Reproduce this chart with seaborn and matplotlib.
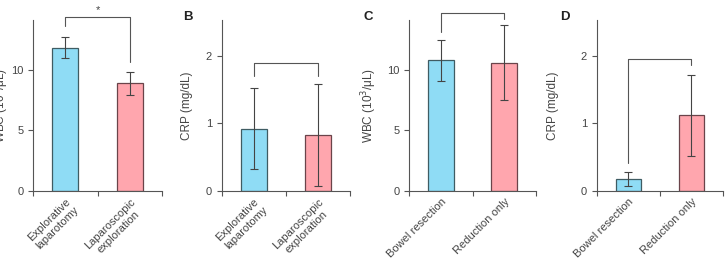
import matplotlib
matplotlib.use("Agg")
import matplotlib.pyplot as plt
import matplotlib.transforms as mtransforms
import seaborn as sns
import pandas as pd

# ---- data ----
cats_ab = ["Explorative\nlaparotomy", "Laparoscopic\nexploration"]
cats_cd = ["Bowel resection", "Reduction only"]
wbc_a = [11.85, 8.9]
wbc_a_err = [0.9, 0.93]
crp_b = [0.92, 0.83]
crp_b_err = [0.6, 0.76]
wbc_c = [10.8, 10.6]
wbc_c_err = [1.7, 3.1]
crp_d = [0.18, 1.12]
crp_d_err = [0.1, 0.6]

ylabels = ["WBC (10$^3$/\u03bcL)", "CRP (mg/dL)", "WBC (10$^3$/\u03bcL)", "CRP (mg/dL)"]
panel_labels = ["", "B", "C", "D"]

# bracket heights: (top, left leg end, right leg end), star text
brackets = [(14.35, 13.6, 10.7, "*"), (1.89, 1.70, 1.70, ""),
            (14.7, 13.1, 14.2, ""), (1.96, 0.41, 1.86, "")]

sns.set_theme(style="ticks")
plt.rcParams["font.family"] = ["Liberation Sans", "DejaVu Sans"]

fig = plt.figure(figsize=(7.25, 2.63), dpi=100)
W, H = 725, 263
axpos = [(33, 129), (221.7, 128.3), (409.3, 126.4), (596.7, 126.3)]
ax_top, ax_bot = 20, 191

colors = ["#8fdcf5", "#ffa6ae"]
edges = ["#3f5c63", "#6a444a"]
spine_c = "#555555"
text_c = "#444444"

panels = [
    (cats_ab, wbc_a, wbc_a_err, 14.13, [0, 5, 10]),
    (cats_ab, crp_b, crp_b_err, 2.53, [0, 1, 2]),
    (cats_cd, wbc_c, wbc_c_err, 14.13, [0, 5, 10]),
    (cats_cd, crp_d, crp_d_err, 2.53, [0, 1, 2]),
]
label_x = [-0.17, -0.227, -0.238, -0.302]
label_pos = [None, 183, 364, 560]

for i, (cats, vals, errs, ytop, yticks) in enumerate(panels):
    left, width = axpos[i]
    ax = fig.add_axes([left / W, (H - ax_bot) / H, width / W, (ax_bot - ax_top) / H])
    df = pd.DataFrame({"cat": cats, "val": vals})
    sns.barplot(data=df, x="cat", y="val", hue="cat", palette=colors, width=0.4,
                saturation=1, errorbar=None, legend=False, ax=ax)
    for j, p in enumerate(ax.patches):
        p.set_edgecolor(edges[j])
        p.set_linewidth(0.9)
    ax.errorbar(range(len(vals)), vals, yerr=errs, fmt="none", ecolor="#444444",
                elinewidth=0.8, capsize=3, capthick=0.8, zorder=5)
    ax.set_xlim(-0.5, 1.5)
    ax.set_ylim(0, ytop)
    ax.set_yticks(yticks)
    ax.set_xticks([-0.5, 0.5, 1.5])
    ax.set_xticklabels([])
    ax.set_xticks([0, 1], minor=True)
    ax.set_xticklabels(cats, minor=True, rotation=45, ha="right",
                       rotation_mode="anchor", multialignment="center",
                       fontsize=8, color=text_c, linespacing=1.2)
    offset = mtransforms.ScaledTranslation(5 / 100, 0, fig.dpi_scale_trans)
    for lab in ax.get_xticklabels(minor=True):
        lab.set_transform(lab.get_transform() + offset)
    ax.tick_params(axis="x", which="minor", length=0, pad=4)
    ax.tick_params(axis="both", which="major", length=3.5, width=0.8,
                   color=spine_c, labelsize=8, labelcolor=text_c, direction="out")
    ax.set_xlabel("")
    ax.set_ylabel(ylabels[i], fontsize=8.5, color=text_c)
    ax.yaxis.set_label_coords(label_x[i], 0.5)
    sns.despine(ax=ax)
    for s in ["left", "bottom"]:
        ax.spines[s].set_color(spine_c)
        ax.spines[s].set_linewidth(0.8)
    # bracket
    top, l_end, r_end, star = brackets[i]
    ax.plot([0, 0, 1, 1], [l_end, top, top, r_end], color="#555555", lw=0.8,
            clip_on=False)
    if star:
        ax.text(0.5, top + 0.15, star, ha="center", va="bottom", fontsize=8,
                color=text_c, clip_on=False)
    if panel_labels[i]:
        fig.text(label_pos[i] / W, 1 - 17 / H, panel_labels[i], fontsize=9.5,
                 fontweight="bold", color="#222222", ha="left", va="center")

fig.savefig("out.png", dpi=100)
